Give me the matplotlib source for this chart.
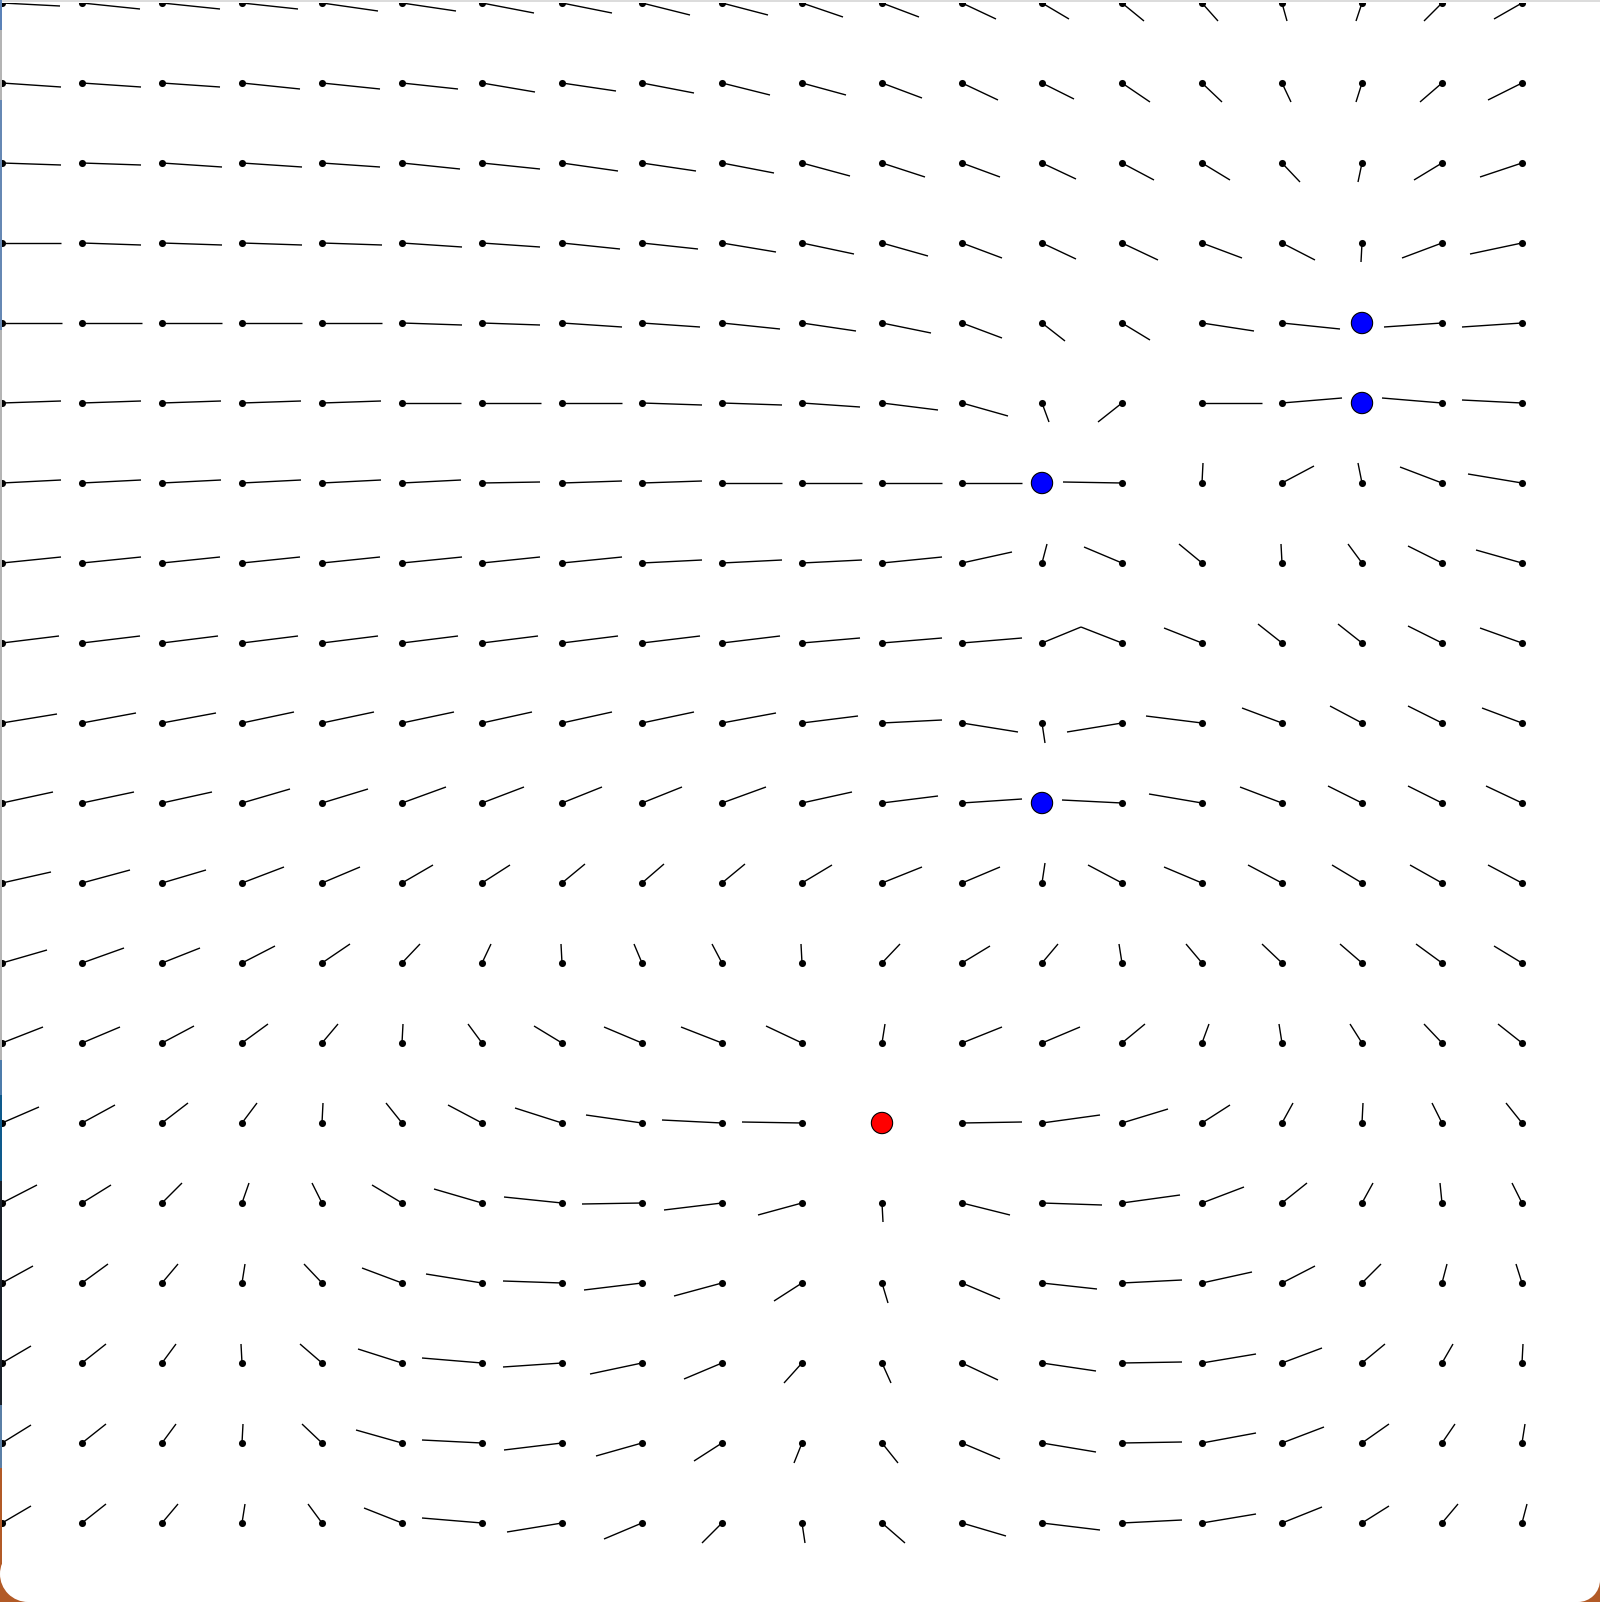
#!/usr/bin/env python3
"""
Charge field needles
--------------------
20 x 20 grid of sample points, each drawn as a dot with a short needle
pointing along the field; one positive (red) and five negative (blue) charges.
Needle components are read off the reference picture (pixels, x right, y down).
"""

import matplotlib
matplotlib.use("Agg")
import matplotlib.pyplot as plt
from matplotlib.collections import LineCollection
from matplotlib.patches import Rectangle, Circle

N = 20  # grid is N x N, column i left->right, row j top->bottom

# charges sit on grid points
charge_col = [11, 13, 17, 17, 13]
charge_row = [14, 6, 4, 5, 10]
charge_color = ['#ff0000', '#0000ff', '#0000ff', '#0000ff', '#0000ff']

# needle x component per row (None = a charge sits there)
U = [
    [58, 58, 58, 56, 56, 54, 52, 50, 48, 46, 41, 37, 34, 27, 22, 16, 5, -6, -18, -28],
    [59, 59, 58, 58, 58, 56, 53, 54, 52, 48, 44, 40, 36, 32, 28, 20, 9, -6, -22, -34],
    [59, 59, 60, 60, 58, 58, 58, 56, 54, 52, 48, 43, 38, 34, 32, 28, 18, -4, -28, -42],
    [59, 59, 60, 60, 60, 60, 58, 58, 56, 54, 52, 46, 40, 34, 36, 40, 33, -1, -40, -52],
    [60, 60, 60, 60, 60, 60, 58, 60, 58, 58, 54, 49, 40, 23, 28, 52, 58, None, -58, -60],
    [59, 59, 59, 59, 59, 59, 59, 60, 60, 60, 58, 56, 46, 7, -24, 60, 60, None, -60, -60],
    [59, 59, 59, 59, 59, 59, 58, 60, 60, 60, 60, 60, 60, None, -59, 1, 32, -4, -42, -54],
    [59, 59, 58, 58, 58, 60, 58, 60, 60, 60, 60, 60, 50, 5, -38, -23, -1, -14, -34, -46],
    [57, 58, 56, 56, 56, 56, 56, 56, 58, 58, 58, 60, 60, 39, -41, -38, -24, -24, -34, -42],
    [55, 54, 54, 52, 52, 52, 50, 50, 52, 54, 56, 60, 56, 3, -55, -56, -40, -32, -34, -40],
    [51, 52, 50, 48, 46, 44, 42, 40, 40, 44, 50, 56, 60, None, -60, -53, -42, -34, -34, -36],
    [49, 48, 44, 42, 38, 31, 28, 23, 22, 23, 30, 40, 38, 3, -34, -38, -34, -30, -32, -34],
    [45, 42, 38, 33, 28, 18, 9, -1, -8, -10, -1, 18, 28, 16, -3, -16, -20, -22, -26, -28],
    [41, 38, 32, 26, 16, 1, -14, -28, -38, -41, -36, 3, 40, 38, 23, 7, -3, -12, -18, -24],
    [37, 33, 26, 15, 1, -16, -34, -47, -56, -60, -60, None, 60, 58, 46, 28, 11, 1, -10, -16],
    [35, 29, 20, 7, -10, -30, -48, -58, -60, -58, -44, 1, 48, 60, 58, 42, 25, 11, -2, -10],
    [31, 26, 16, 3, -18, -40, -56, -59, -58, -48, -28, 6, 38, 55, 60, 50, 33, 19, 5, -6],
    [29, 24, 14, -1, -22, -44, -60, -59, -52, -38, -18, 9, 36, 54, 60, 54, 40, 23, 11, 1],
    [29, 24, 14, 1, -20, -46, -60, -58, -46, -28, -8, 16, 38, 54, 60, 54, 42, 27, 13, 3],
    [29, 24, 16, 3, -14, -38, -60, -55, -38, -20, 3, 23, 44, 58, 60, 54, 40, 27, 16, 5],
]

# needle y component per row (down is positive)
V = [
    [3, 6, 6, 6, 8, 8, 10, 10, 12, 12, 14, 14, 16, 16, 18, 18, 18, 18, 18, 16],
    [4, 4, 4, 6, 6, 6, 9, 8, 10, 12, 12, 15, 17, 16, 19, 19, 19, 19, 19, 17],
    [2, 2, 4, 4, 4, 6, 6, 8, 8, 10, 13, 14, 14, 16, 17, 17, 19, 19, 17, 14],
    [0, 2, 2, 2, 2, 4, 4, 6, 6, 9, 11, 13, 15, 16, 17, 15, 17, 19, 15, 11],
    [0, 0, 0, 0, 0, 2, 2, 4, 4, 6, 8, 10, 15, 18, 17, 8, 6, None, 4, 4],
    [-2, -2, -2, -2, -2, 0, 0, 0, 2, 2, 4, 7, 13, 19, 19, 0, -5, None, -5, -3],
    [-3, -3, -3, -3, -3, -3, -1, -2, -2, 0, 0, 0, 0, None, -1, -20, -17, -20, -16, -9],
    [-6, -6, -6, -6, -6, -6, -6, -6, -3, -3, -3, -6, -11, -19, -16, -19, -19, -19, -17, -13],
    [-7, -7, -7, -7, -7, -7, -7, -7, -7, -7, -5, -5, -5, -16, -16, -15, -19, -19, -17, -15],
    [-9, -10, -10, -11, -11, -11, -11, -11, -11, -10, -7, -3, 9, 20, 9, -7, -15, -17, -17, -15],
    [-11, -11, -11, -14, -14, -16, -16, -16, -16, -16, -11, -7, -4, None, -3, -9, -16, -17, -17, -17],
    [-11, -13, -13, -16, -16, -18, -18, -19, -19, -19, -18, -16, -16, -20, -18, -16, -18, -18, -18, -18],
    [-13, -15, -15, -17, -19, -19, -19, -19, -19, -19, -19, -19, -17, -19, -19, -19, -19, -19, -19, -17],
    [-16, -16, -17, -19, -19, -19, -19, -17, -16, -16, -17, -19, -16, -16, -19, -19, -19, -19, -19, -19],
    [-16, -18, -20, -20, -20, -20, -18, -15, -8, -3, -1, None, -1, -8, -14, -18, -20, -20, -20, -20],
    [-18, -18, -20, -20, -20, -18, -14, -6, 1, 7, 12, 19, 12, 2, -8, -16, -20, -20, -20, -20],
    [-17, -19, -19, -19, -19, -15, -9, -2, 7, 13, 18, 20, 16, 6, -3, -11, -17, -19, -19, -19],
    [-17, -19, -19, -19, -19, -14, -5, 4, 11, 16, 20, 20, 17, 8, -1, -9, -15, -19, -19, -19],
    [-18, -19, -19, -19, -19, -13, -3, 7, 13, 18, 20, 20, 16, 9, -1, -10, -16, -19, -19, -19],
    [-17, -19, -19, -19, -19, -15, -5, 9, 16, 20, 20, 20, 13, 7, -3, -9, -16, -17, -19, -19],
]

W, H = 1600, 1602      # output size in px
CELL = 80.0            # grid spacing in px
X0, Y0 = 2.0, 3.0      # pixel position of grid point (0, 0)

fig = plt.figure(figsize=(W / 100, H / 100), dpi=100)
fig.patch.set_facecolor('white')

# --- window chrome around the canvas (pixel coords) ---
bg = fig.add_axes([0, 0, 1, 1])
bg.set_xlim(0, W)
bg.set_ylim(H, 0)
bg.axis('off')
bg.add_patch(Rectangle((0, 0), W, 2, color='#dcdcdc', lw=0))
strip = [(0, 30, '#5b82b8'), (30, 100, '#b4b4b4'), (100, 330, '#6688b4'),
         (330, 1060, '#b4b4b4'), (1060, 1095, '#4d7cab'), (1095, 1181, '#0e5a8c'),
         (1181, 1405, '#1b222b'), (1405, 1468, '#5a7fa6'), (1468, H, '#b25a26')]
for y_a, y_b, c in strip:
    bg.add_patch(Rectangle((0, y_a), 2, y_b - y_a, color=c, lw=0))
# rounded bottom corners of the window
for cx, r in ((0, 28), (W, 22)):
    sx = cx if cx == 0 else cx - r
    ccx = cx + r if cx == 0 else cx - r
    bg.add_patch(Rectangle((sx, H - r), r, r, color='#b25a26', lw=0))
    bg.add_patch(Circle((ccx, H - r), r, color='white', lw=0))

# --- field axes: data units are grid cells ---
ax = fig.add_axes([X0 / W, 0, 1 - X0 / W, (H - 2.5) / H])
ax.patch.set_visible(False)
ax.set_xlim(0, (W - X0) / CELL)
ax.set_ylim((H - Y0) / CELL, (2.5 - Y0) / CELL)
ax.axis('off')

segs, px, py = [], [], []
for j in range(N):
    for i in range(N):
        if U[j][i] is None:
            continue
        segs.append([(i, j), (i + U[j][i] / CELL, j + V[j][i] / CELL)])
        px.append(i)
        py.append(j)

ax.add_collection(LineCollection(segs, colors='black', linewidths=1.0,
                                 capstyle='butt', zorder=2))
ax.scatter(px, py, s=26, color='black', linewidths=0, zorder=3)
ax.scatter(charge_col, charge_row, s=235, c=charge_color,
           edgecolors='black', linewidths=0.8, zorder=4)

fig.savefig('out.png', dpi=100)
